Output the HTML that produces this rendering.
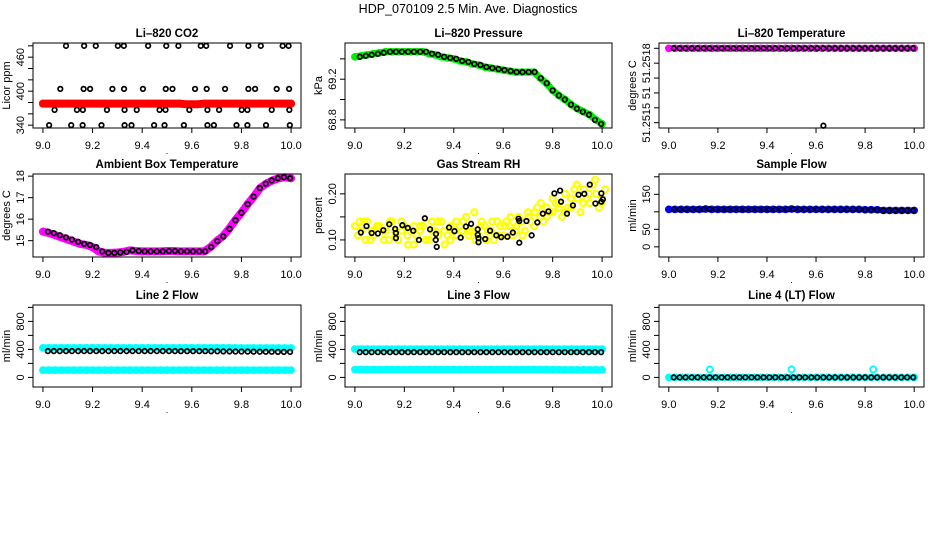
<!DOCTYPE html>
<html><head><meta charset="utf-8"><style>
html,body{margin:0;padding:0;background:#fff;}
svg{display:block;font-family:"Liberation Sans",sans-serif;}
</style></head><body>
<svg id="c" width="936" height="540" viewBox="0 0 936 540">
<rect width="936" height="540" fill="#fff"/>
<text x="468" y="13" text-anchor="middle" font-size="12.5">HDP_070109  2.5 Min. Ave. Diagnostics</text>
</svg>
<script>
// shared time axis (hours)
const T = [9.0,9.025,9.05,9.075,9.1,9.125,9.15,9.175,9.2,9.225,9.25,9.275,9.3,9.325,9.35,9.375,9.4,9.425,9.45,9.475,9.5,9.525,9.55,9.575,9.6,9.625,9.65,9.675,9.7,9.725,9.75,9.775,9.8,9.825,9.85,9.875,9.9,9.925,9.95,9.975,10.0];
const TB = [9.02,9.044,9.068,9.093,9.117,9.142,9.166,9.19,9.215,9.239,9.264,9.288,9.312,9.337,9.361,9.386,9.41,9.434,9.459,9.483,9.508,9.532,9.556,9.581,9.605,9.63,9.654,9.678,9.703,9.727,9.752,9.776,9.8,9.825,9.849,9.874,9.898,9.922,9.947,9.971,9.996];
const xTicks = [9.0,9.2,9.4,9.6,9.8,10.0];
const xTickLabels = ["9.0","9.2","9.4","9.6","9.8","10.0"];

// CO2
const co2Red = [378,378,378,378,378,378,378,378,378,378,378,378,378,378,378,378,378,378,378,378,378,378,378,377,377,377,378,378,378,378,378,378,378,378,378,378,378,378,378,378,378];
const co2BlackX = [9.093,9.166,9.213,9.302,9.326,9.424,9.497,9.546,9.636,9.658,9.754,9.828,9.878,9.966,9.990,
 9.070,9.164,9.190,9.280,9.327,9.403,9.495,9.522,9.613,9.660,9.734,9.828,9.855,9.942,9.992,
 9.047,9.137,9.161,9.258,9.329,9.378,9.470,9.494,9.590,9.663,9.710,9.801,9.824,9.922,9.993,
 9.025,9.114,9.160,9.236,9.329,9.357,9.448,9.490,9.568,9.663,9.689,9.780,9.824,9.899,9.995];
const co2BlackY = [480,480,480,480,480,480,480,480,480,480,480,480,480,480,480,
 404,404,404,404,404,404,404,404,404,404,404,404,404,404,404,
 367,367,367,367,367,367,367,367,367,367,367,367,367,367,367,
 340,340,340,340,340,340,340,340,340,340,340,340,340,340,340];
// Pressure
const pres = [69.42,69.43,69.44,69.45,69.46,69.47,69.47,69.47,69.47,69.47,69.47,69.47,69.45,69.44,69.42,69.41,69.40,69.38,69.37,69.35,69.34,69.32,69.31,69.30,69.29,69.28,69.27,69.27,69.27,69.27,69.21,69.16,69.09,69.04,69.00,68.95,68.91,68.88,68.85,68.80,68.76];
// Li-820 temperature
const ltemp = [51.252,51.252,51.252,51.252,51.252,51.252,51.252,51.252,51.252,51.252,51.252,51.252,51.252,51.252,51.252,51.252,51.252,51.252,51.252,51.252,51.252,51.252,51.252,51.252,51.252,51.252,51.252,51.252,51.252,51.252,51.252,51.252,51.252,51.252,51.252,51.252,51.252,51.252,51.252,51.252,51.252];
const ltempOutX = [9.63];
const ltempOutY = [51.25148];
// Ambient box temperature
const amb = [15.42,15.35,15.25,15.15,15.05,14.95,14.85,14.8,14.7,14.5,14.43,14.43,14.45,14.48,14.55,14.52,14.5,14.5,14.5,14.5,14.52,14.52,14.5,14.5,14.5,14.5,14.5,14.7,14.98,15.2,15.55,15.95,16.3,16.7,17.05,17.45,17.65,17.8,17.9,17.95,17.9];
// Gas stream RH
const rhA = [0.13,0.12,0.14,0.11,0.13,0.12,0.14,0.10,0.13,0.12,0.11,0.13,0.10,0.12,0.14,0.11,0.12,0.13,0.15,0.12,0.11,0.13,0.12,0.14,0.11,0.13,0.12,0.14,0.16,0.13,0.15,0.17,0.16,0.18,0.20,0.17,0.19,0.21,0.18,0.20,0.19];
const rhB = [0.11,0.14,0.10,0.13,0.12,0.10,0.12,0.14,0.11,0.09,0.13,0.10,0.12,0.14,0.09,0.13,0.11,0.14,0.12,0.10,0.14,0.12,0.10,0.13,0.14,0.11,0.15,0.12,0.14,0.17,0.14,0.16,0.18,0.15,0.17,0.21,0.16,0.19,0.22,0.17,0.21];
const rhC = [0.14,0.10,0.12,0.13,0.10,0.14,0.11,0.12,0.09,0.13,0.12,0.10,0.14,0.11,0.12,0.10,0.14,0.12,0.11,0.16,0.13,0.10,0.14,0.11,0.13,0.15,0.13,0.11,0.15,0.16,0.18,0.15,0.19,0.17,0.16,0.19,0.22,0.18,0.20,0.23,0.18];
const rhBlackX = [9.024,9.047,9.068,9.093,9.115,9.139,9.166,9.163,9.166,9.192,9.214,9.236,9.259,9.283,9.304,9.328,9.327,9.331,9.381,9.403,9.428,9.449,9.470,9.497,9.497,9.500,9.500,9.527,9.547,9.572,9.592,9.617,9.639,9.665,9.662,9.665,9.694,9.715,9.738,9.760,9.783,9.807,9.830,9.834,9.858,9.882,9.905,9.928,9.950,9.973,9.997,9.997,10.003];
const rhBlackY = [0.116,0.130,0.115,0.114,0.121,0.134,0.115,0.124,0.104,0.132,0.126,0.120,0.100,0.147,0.123,0.113,0.100,0.085,0.127,0.119,0.105,0.129,0.135,0.123,0.111,0.104,0.095,0.102,0.120,0.110,0.106,0.107,0.116,0.094,0.146,0.141,0.141,0.110,0.138,0.157,0.162,0.201,0.207,0.183,0.157,0.175,0.198,0.200,0.220,0.179,0.201,0.183,0.188];
// Flows
const sampleFlow = [107,107,107,107,107,107,108,107,107,107,107,107,107,107,107,107,107,107,107,107,108,107,107,107,107,107,107,107,107,107,107,107,106,106,106,104,104,104,104,104,104];
const l2High = [422,422,422,422,422,422,422,422,422,422,422,422,422,422,422,422,422,422,422,422,422,422,422,422,422,422,422,422,422,422,422,422,420,420,420,420,420,420,420,420,420];
const l2Low = [104,104,104,104,104,104,104,104,104,104,104,104,104,104,104,104,104,104,104,104,104,104,104,104,104,104,104,104,104,104,104,104,104,104,104,104,104,104,104,104,104];
const l2Black = [376,376,376,376,376,376,376,376,376,376,376,376,376,376,376,376,376,376,376,376,376,376,375,375,375,375,375,374,373,372,371,370,370,369,368,367,366,366,365,365,365];
const l3High = [405,405,405,405,405,405,405,405,405,405,405,405,405,405,405,405,405,405,405,405,405,405,405,405,405,405,405,405,405,405,405,405,405,405,405,405,405,405,405,405,405];
const l3Low = [112,112,112,112,112,112,112,112,112,112,112,112,112,112,112,112,112,112,112,112,112,112,112,112,112,112,112,112,112,112,112,112,110,110,108,108,108,108,108,108,108];
const l3Black = [361,361,361,361,361,361,361,361,361,361,361,361,361,361,361,361,361,361,361,361,361,361,361,361,361,361,361,361,361,361,361,361,361,361,361,361,361,361,361,361,361];
const l4Cyan = [0,0,0,0,0,0,0,0,0,0,0,0,0,0,0,0,0,0,0,0,0,0,0,0,0,0,0,0,0,0,0,0,0,0,0,0,0,0,0,0,0];
const l4Black = [0,0,0,0,0,0,0,0,0,0,0,0,0,0,0,0,0,0,0,0,0,0,0,0,0,0,0,0,0,0,0,0,0,0,0,0,0,0,0,0,0];
const l4SpikeX = [9.167,9.5,9.833];
const l4SpikeY = [114,114,114];

const NS = "http://www.w3.org/2000/svg";
const svg = document.getElementById('c');
function mk(tag, attrs, parent){ const e=document.createElementNS(NS,tag); for(const k in attrs) e.setAttribute(k,attrs[k]); (parent||svg).appendChild(e); return e; }

const cols = [[33,301],[345,612],[659,924]];
const rows = [[43,128],[174,257],[305,387]];
const XMIN=8.96, XMAX=10.04;

function panel(def){
  const [l,r]=cols[def.col], [t,b]=rows[def.row];
  const g = mk('g',{});
  
  
  const sx = v => l + (v-XMIN)/(XMAX-XMIN)*(r-l);
  const sy = v => b - (v-def.ymin)/(def.ymax-def.ymin)*(b-t);
  const tt = mk('text',{x:(l+r)/2,y:t-6,'text-anchor':'middle','font-size':11.5,'font-weight':'bold'},g);
  tt.textContent = def.title;
  
  
  const xa = mk('g',{},g);
  
  
  mk('line',{x1:sx(xTicks[0]),x2:sx(xTicks[xTicks.length-1]),y1:b,y2:b,stroke:'#000'},xa);
  xTicks.forEach((v,i)=>{
    mk('line',{x1:sx(v),x2:sx(v),y1:b,y2:b+5,stroke:'#000'},xa);
    const tx = mk('text',{x:sx(v),y:b+21,'text-anchor':'middle','font-size':11},xa);
    tx.textContent = xTickLabels[i];
  });
  const dot = mk('text',{x:(l+r)/2,y:b+26,'text-anchor':'middle','font-size':9},xa);
  dot.textContent='.';
  const ya = mk('g',{},g);
  
  
  const yt = def.yTicks;
  mk('line',{x1:l,x2:l,y1:sy(yt[0]),y2:sy(yt[yt.length-1]),stroke:'#000'},ya);
  yt.forEach((v,i)=>{
    mk('line',{x1:l-5,x2:l,y1:sy(v),y2:sy(v),stroke:'#000'},ya);
    const lab = def.yLabels[i];
    if(lab){
      const y0=sy(v), x0=l-9;
      const tx = mk('text',{x:x0,y:y0,'text-anchor':'middle','font-size':11,transform:`rotate(-90 ${x0} ${y0})`},ya);
      tx.textContent = lab;
    }
  });
  const yx=l-23, yy=(t+b)/2;
  const ytl = mk('text',{x:yx,y:yy,'text-anchor':'middle','font-size':11,transform:`rotate(-90 ${yx} ${yy})`},g);
  ytl.textContent = def.ytitle;
  
  
  def.series.forEach(s=>{
    const sg = mk('g',{},g);
    
    
    if(s.band){
      const pts = s.x.map((v,i)=>sx(v)+','+sy(s.y[i])).join(' ');
      mk('polyline',{points:pts,fill:'none',stroke:s.color,'stroke-width':s.band,'stroke-linejoin':'round','stroke-linecap':'round'},sg);
    }
    s.x.forEach((v,i)=>{
      mk('circle',{cx:sx(v),cy:sy(s.y[i]),r:s.r||2.3,fill:'none',stroke:s.color,'stroke-width':s.sw||1.7},sg);
    });
  });
  mk('rect',{x:l,y:t,width:r-l,height:b-t,fill:'none',stroke:'#000','stroke-width':1},g);
}

const Tm = T.map(v=>v+0.0125);
const flowTicks=[0,200,400,600,800,1000], flowLabels=['0','','400','','800',''];
const panels = [
 {name:'panel-co2',col:0,row:0,title:'Li\u2013820 CO2',ytitle:'Licor ppm',ymin:335,ymax:485,
  yTicks:[340,360,380,400,420,440,460,480],yLabels:['340','','','400','','','460',''],
  series:[{name:'co2-red-series',x:T,y:co2Red,color:'#ff0000',band:8,r:3},{name:'co2-black-series',x:co2BlackX,y:co2BlackY,color:'#000'}]},
 {name:'panel-pressure',col:1,row:0,title:'Li\u2013820 Pressure',ytitle:'kPa',ymin:68.72,ymax:69.556,
  yTicks:[68.8,69.0,69.2,69.4],yLabels:['68.8','','69.2',''],
  series:[{name:'pressure-green-series',x:T,y:pres,color:'#00ee00',band:7,r:3},{name:'pressure-black-series',x:TB,y:pres,color:'#000'}]},
 {name:'panel-li820-temperature',col:2,row:0,title:'Li\u2013820 Temperature',ytitle:'degrees C',ymin:51.2514644,ymax:51.2520356,
  yTicks:[51.2515,51.2516,51.2517,51.2518,51.2519,51.252],yLabels:['51.2515','','51','','51.2518',''],
  series:[{name:'temperature-magenta-series',x:T,y:ltemp,color:'#ff00ff',band:6,r:3},{name:'temperature-black-series',x:TB,y:ltemp,color:'#000'},{name:'temperature-outlier',x:ltempOutX,y:ltempOutY,color:'#000'}]},
 {name:'panel-ambient-temperature',col:0,row:1,title:'Ambient Box Temperature',ytitle:'degrees C',ymin:14.24,ymax:18.1,
  yTicks:[15,16,17,18],yLabels:['15','16','17','18'],
  series:[{name:'ambient-magenta-series',x:T,y:amb,color:'#ff00ff',band:8,r:3},{name:'ambient-black-series',x:TB,y:amb,color:'#000'}]},
 {name:'panel-rh',col:1,row:1,title:'Gas Stream RH',ytitle:'percent',ymin:0.063,ymax:0.243,
  yTicks:[0.10,0.15,0.20],yLabels:['0.10','','0.20'],
  series:[{name:'rh-yellow-a',x:T,y:rhA,color:'#ffff00',r:3,sw:2.2},{name:'rh-yellow-b',x:Tm,y:rhB,color:'#ffff00',r:3,sw:2.2},{name:'rh-yellow-c',x:TB,y:rhC,color:'#ffff00',r:3,sw:2.2},{name:'rh-black-series',x:rhBlackX,y:rhBlackY,color:'#000'}]},
 {name:'panel-sample-flow',col:2,row:1,title:'Sample Flow',ytitle:'ml/min',ymin:-29,ymax:208,
  yTicks:[0,50,100,150,200],yLabels:['0','50','','150',''],
  series:[{name:'sample-blue-series',x:T,y:sampleFlow,color:'#0000ff',band:6,r:3},{name:'sample-black-series',x:TB,y:sampleFlow,color:'#000'}]},
 {name:'panel-line2-flow',col:0,row:2,title:'Line 2 Flow',ytitle:'ml/min',ymin:-137,ymax:1034,
  yTicks:flowTicks,yLabels:flowLabels,
  series:[{name:'line2-cyan-high',x:T,y:l2High,color:'#00ffff',band:7,r:3},{name:'line2-cyan-low',x:T,y:l2Low,color:'#00ffff',band:7,r:3},{name:'line2-black-series',x:TB,y:l2Black,color:'#000'}]},
 {name:'panel-line3-flow',col:1,row:2,title:'Line 3 Flow',ytitle:'ml/min',ymin:-137,ymax:1034,
  yTicks:flowTicks,yLabels:flowLabels,
  series:[{name:'line3-cyan-high',x:T,y:l3High,color:'#00ffff',band:7,r:3},{name:'line3-cyan-low',x:T,y:l3Low,color:'#00ffff',band:7,r:3},{name:'line3-black-series',x:TB,y:l3Black,color:'#000'}]},
 {name:'panel-line4-flow',col:2,row:2,title:'Line 4 (LT) Flow',ytitle:'ml/min',ymin:-137,ymax:1034,
  yTicks:flowTicks,yLabels:flowLabels,
  series:[{name:'line4-cyan-series',x:T,y:l4Cyan,color:'#00ffff',band:5,r:3},{name:'line4-black-series',x:TB,y:l4Black,color:'#000'},{name:'line4-cyan-spikes',x:l4SpikeX,y:l4SpikeY,color:'#00ffff',r:3,sw:2}]}
];
panels.forEach(panel);
</script>
</body></html>
